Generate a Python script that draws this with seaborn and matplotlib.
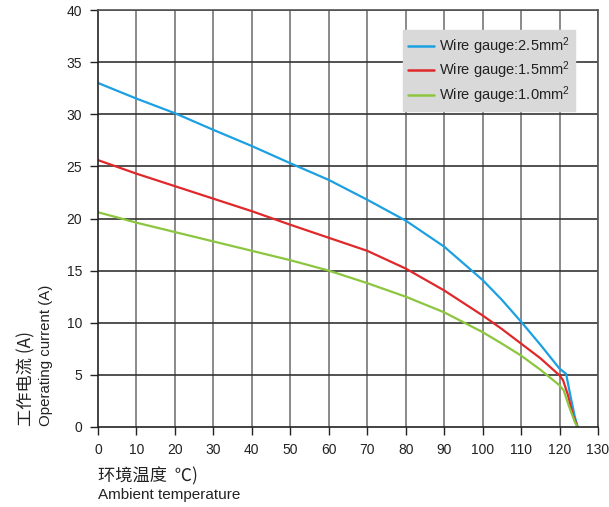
import matplotlib
matplotlib.use("Agg")
import matplotlib.pyplot as plt
import seaborn as sns
import pandas as pd

# ---- data ----
temp_25 = [0, 10, 20, 30, 40, 50, 60, 70, 80, 90, 100, 105, 110, 115, 120, 121.7, 122.8, 123.9, 124.7]
curr_25 = [33.0, 31.5, 30.1, 28.5, 26.95, 25.3, 23.7, 21.8, 19.8, 17.3, 14.1, 12.2, 10.1, 7.9, 5.6, 5.1, 3.05, 1.1, 0.0]

temp_15 = [0, 10, 20, 30, 40, 50, 60, 70, 80, 90, 100, 105, 110, 115, 120, 120.9, 122.2, 123.5, 124.7]
curr_15 = [25.6, 24.3, 23.1, 21.9, 20.7, 19.4, 18.15, 16.9, 15.2, 13.1, 10.7, 9.4, 8.0, 6.6, 4.95, 4.5, 3.05, 1.1, 0.0]

temp_10 = [0, 10, 20, 30, 40, 50, 60, 70, 80, 90, 100, 105, 110, 115, 120, 121.1, 122.4, 124.0, 124.7]
curr_10 = [20.6, 19.6, 18.7, 17.8, 16.9, 16.0, 15.0, 13.8, 12.5, 11.0, 9.1, 8.0, 6.85, 5.5, 4.0, 3.5, 2.05, 0.45, 0.0]

series_labels = [r"Wire gauge:2.5mm$^2$", r"Wire gauge:1.5mm$^2$", r"Wire gauge:1.0mm$^2$"]
series_colors = ["#1ba0e2", "#e0282a", "#8cc63e"]

x_ticks = list(range(0, 131, 10))
y_ticks = list(range(0, 41, 5))

x_label_cn = "环境温度  ℃)"
x_label_en = "Ambient temperature"
y_label_cn = "工作电流 (A)"
y_label_en = "Operating current (A)"

# ---- build long-form table ----
frames = []
for lab, t, c in zip(series_labels, [temp_25, temp_15, temp_10], [curr_25, curr_15, curr_10]):
    frames.append(pd.DataFrame({"temp": t, "current": c, "series": lab}))
df = pd.concat(frames, ignore_index=True)

sns.set_theme(style="white")
plt.rcParams["font.family"] = ["Liberation Sans", "Noto Sans CJK SC", "DejaVu Sans"]
plt.rcParams["mathtext.fontset"] = "custom"
plt.rcParams["mathtext.rm"] = "Liberation Sans"
plt.rcParams["mathtext.it"] = "Liberation Sans"

fig = plt.figure(figsize=(6.09, 5.07), dpi=100)
W, H = 609, 507
left, right, top, bottom = 98, 598, 10, 427
ax = fig.add_axes([left / W, 1 - bottom / H, (right - left) / W, (bottom - top) / H])

sns.lineplot(data=df, x="temp", y="current", hue="series", palette=series_colors,
             hue_order=series_labels, estimator=None, sort=False, linewidth=1.6, ax=ax)

ax.set_xlim(0, 130)
ax.set_ylim(0, 40)
ax.set_xticks(x_ticks)
ax.set_yticks(y_ticks)
ax.tick_params(axis="both", direction="out", length=5.5, width=1.0, color="#222222",
               labelsize=10, labelcolor="#222222", pad=6, bottom=True, left=True)
ax.set_xlabel("")
ax.set_ylabel("")

for x in x_ticks[1:]:
    ax.axvline(x, color="#777777", lw=1.2, zorder=0)
for y in y_ticks[1:]:
    ax.axhline(y, color="#333333", lw=1.2, zorder=0)

for s in ["left", "bottom"]:
    ax.spines[s].set_color("#222222")
    ax.spines[s].set_linewidth(1.2)
for s in ["top", "right"]:
    ax.spines[s].set_color("#555555")
    ax.spines[s].set_linewidth(1.2)

leg = ax.legend(loc="upper left", bbox_to_anchor=(0.61, 0.952), frameon=True, fancybox=False,
                fontsize=10.5, handlelength=1.75, handletextpad=0.35, borderpad=0.35,
                labelspacing=0.2, borderaxespad=0)
leg.get_frame().set_facecolor("#d9d9d9")
leg.get_frame().set_edgecolor("#d9d9d9")
leg.get_frame().set_alpha(1)
for t in leg.get_texts():
    t.set_color("#222222")
for l in leg.get_lines():
    l.set_linewidth(1.8)

fig.text(98 / W, 1 - 476 / H, x_label_cn, fontsize=12.4, color="#222222", va="center", ha="left",
         family=["Noto Sans CJK SC", "DejaVu Sans"])
fig.text(98 / W, 1 - 495 / H, x_label_en, fontsize=11, color="#222222", va="center", ha="left")
fig.text(26 / W, 1 - 426 / H, y_label_cn, fontsize=12.4, color="#222222", va="center", ha="left",
         rotation=90, rotation_mode="anchor", family=["Noto Sans CJK SC", "DejaVu Sans"])
fig.text(46 / W, 1 - 426 / H, y_label_en, fontsize=10.8, color="#222222", va="center", ha="left",
         rotation=90, rotation_mode="anchor")

fig.savefig("out.png", dpi=100)
